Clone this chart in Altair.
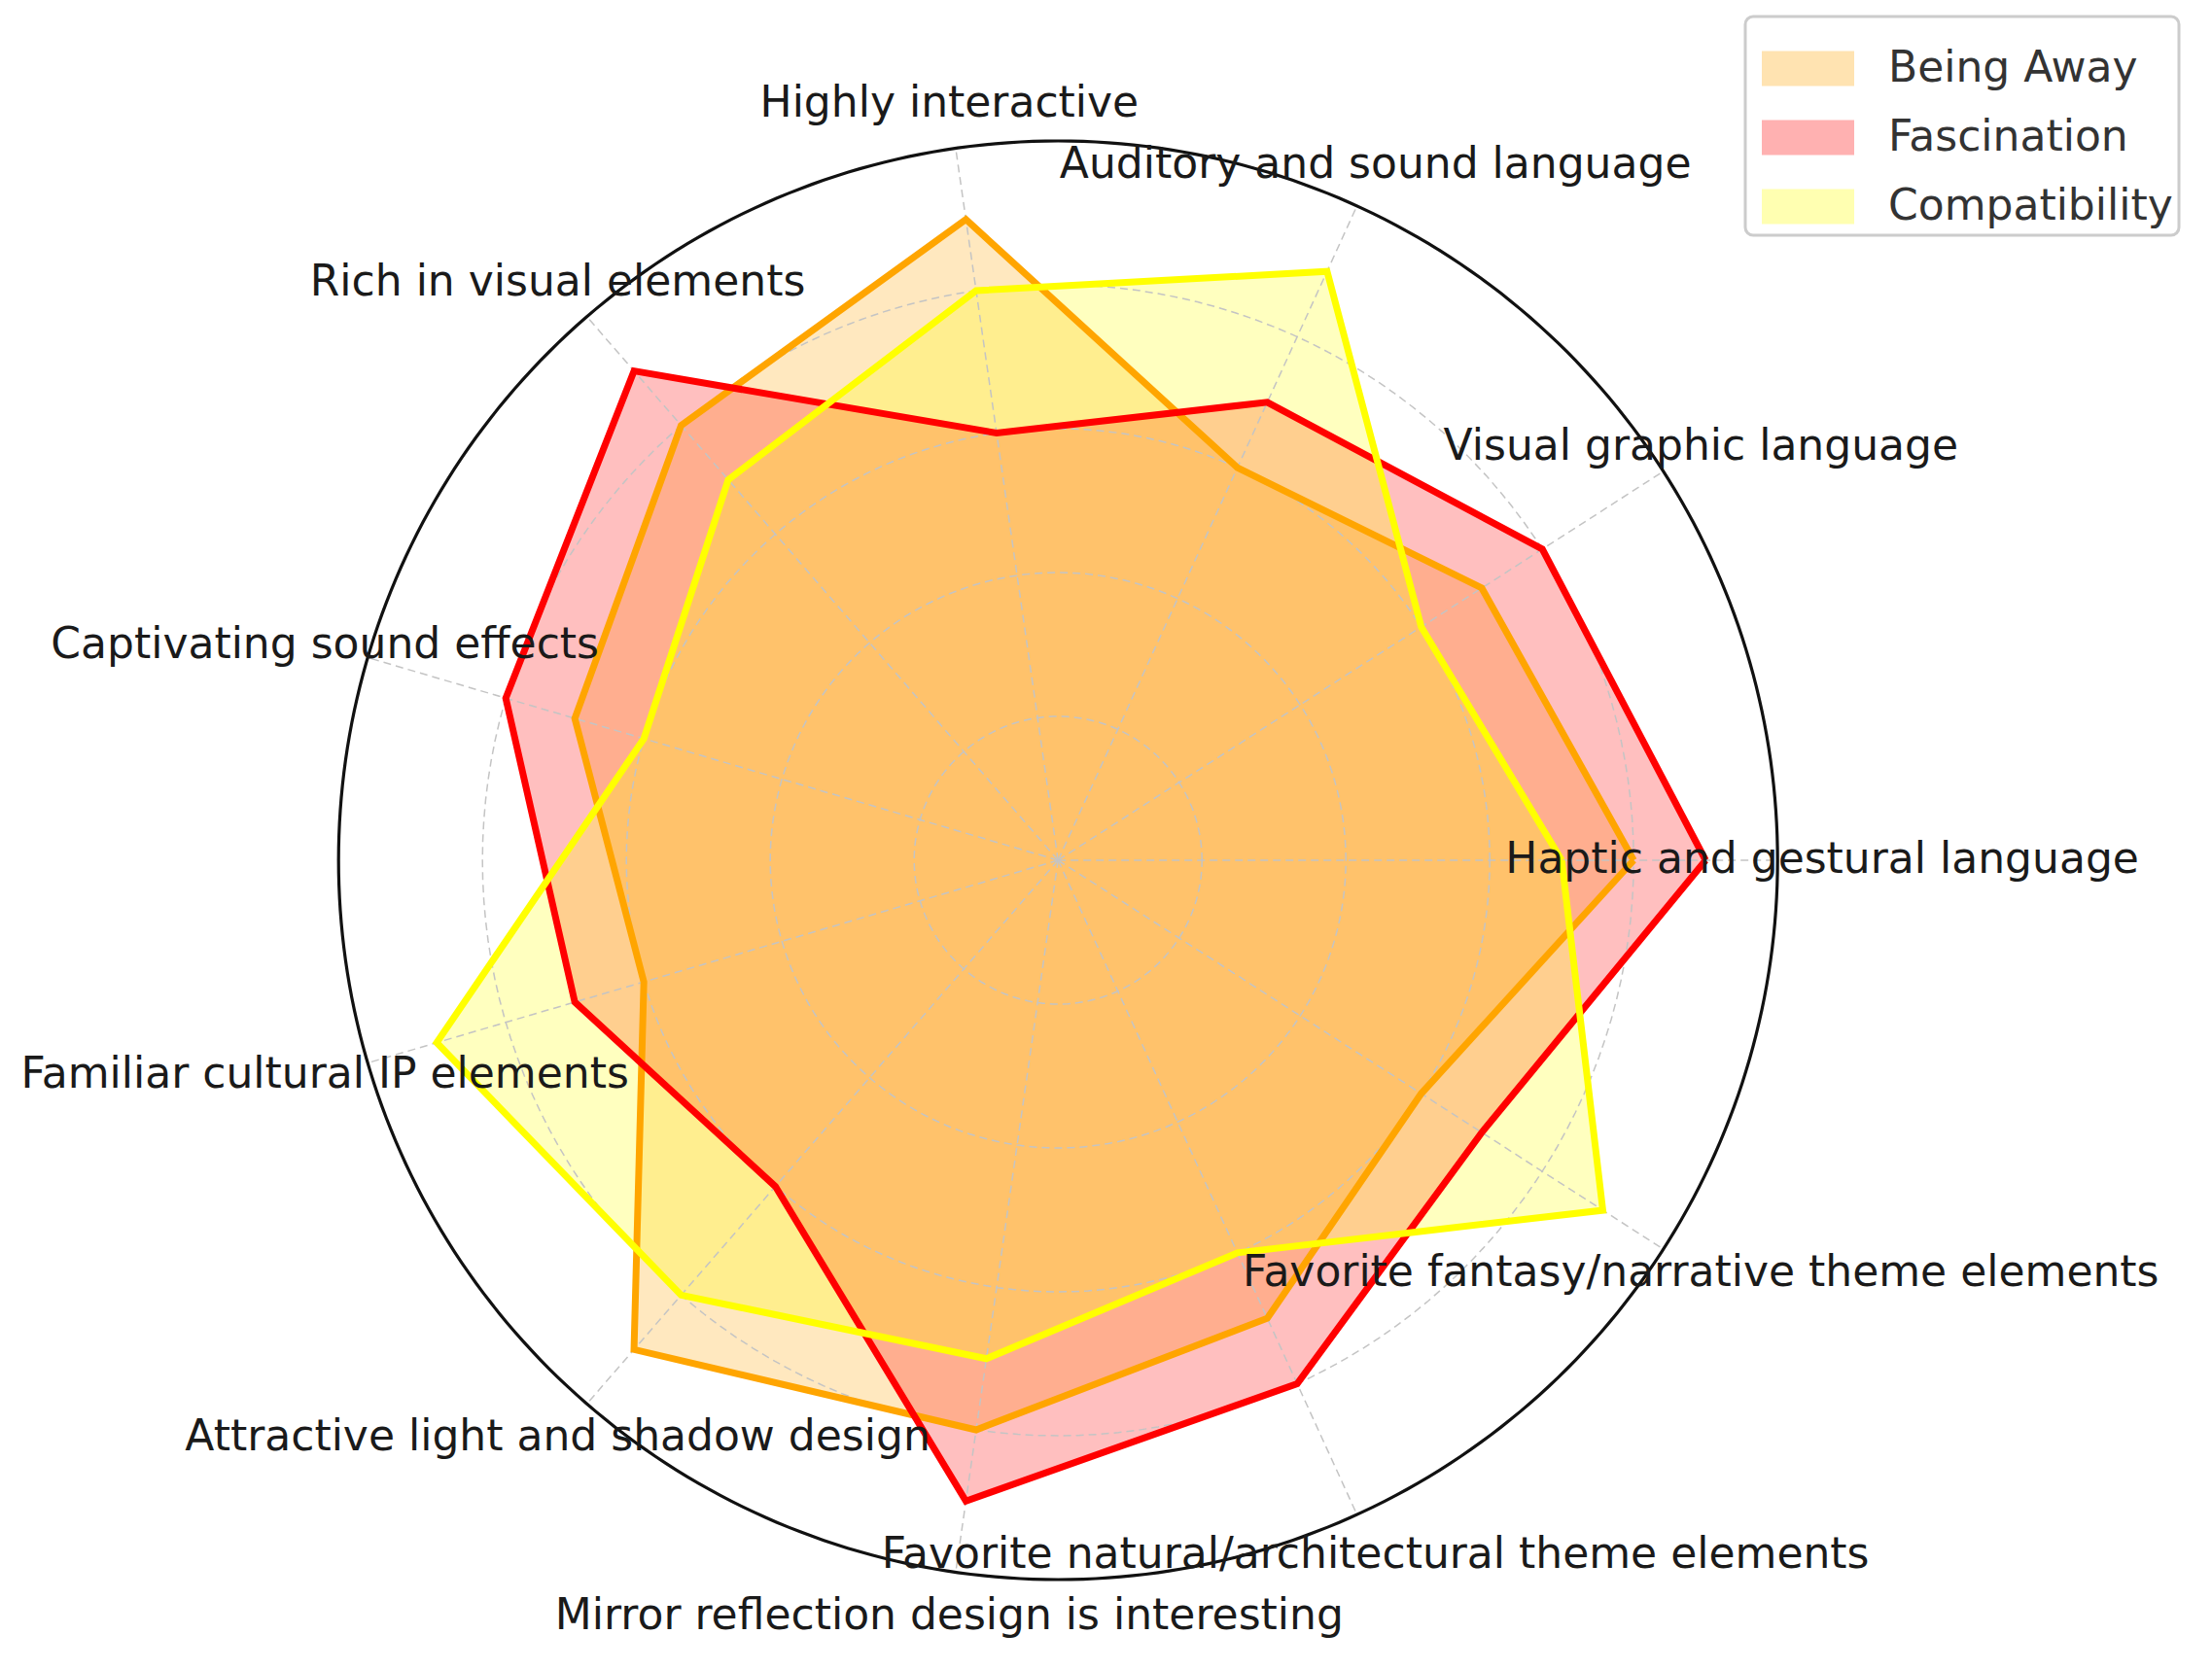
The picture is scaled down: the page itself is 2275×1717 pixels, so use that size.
import altair as alt
import pandas as pd
import numpy as np

categories = [
    "Haptic and gestural language",
    "Visual graphic language",
    "Auditory and sound language",
    "Highly interactive",
    "Rich in visual elements",
    "Captivating sound effects",
    "Familiar cultural IP elements",
    "Attractive light and shadow design",
    "Mirror reflection design is interesting",
    "Favorite natural/architectural theme elements",
    "Favorite fantasy/narrative theme elements",
]
series_names = ["Being Away", "Fascination", "Compatibility"]
being_away = [4.0, 3.5, 3.0, 4.5, 4.0, 3.5, 3.0, 4.5, 4.0, 3.5, 3.0]
fascination = [4.5, 4.0, 3.5, 3.0, 4.5, 4.0, 3.5, 3.0, 4.5, 4.0, 3.5]
compatibility = [3.5, 3.0, 4.5, 4.0, 3.5, 3.0, 4.5, 4.0, 3.5, 3.0, 4.5]
series_colors = ["#FFA500", "#FF0000", "#FFFF00"]
rings = [1, 2, 3, 4]
r_max = 5
label_r = 5.31

N = len(categories)
rows = []
for name, vals in zip(series_names, [being_away, fascination, compatibility]):
    for i in range(N + 1):
        rows.append({"series": name, "i": i, "v": vals[i % N]})
df = pd.DataFrame(rows)

cat_df = pd.DataFrame({"i": list(range(N)), "label": categories})
ring_df = pd.DataFrame([{"r": r, "deg": d} for r in rings for d in range(0, 361, 2)])
outer_df = pd.DataFrame([{"r": r_max, "deg": d} for d in range(0, 361, 1)])

W, H = 2259, 1700
ppu = 148.0
cx, cy = 1088.2 - 8, 885.0 - 8
xmin = -cx / ppu
xmax = xmin + W / ppu
ymax = cy / ppu
ymin = ymax - H / ppu

xs = alt.Scale(domain=[xmin, xmax], nice=False, zero=False)
ys = alt.Scale(domain=[ymin, ymax], nice=False, zero=False)
X = alt.X("x:Q", scale=xs, axis=None)
Y = alt.Y("y:Q", scale=ys, axis=None)

ang = f"datum.i * 2 * PI / {N}"
cscale = alt.Scale(domain=series_names, range=series_colors)

fills = []
lines = []
for k, s in enumerate(series_names):
    base = alt.Chart(df).transform_filter(alt.datum.series == s).transform_calculate(
        x=f"datum.v * cos({ang})", y=f"datum.v * sin({ang})"
    )
    fills.append(
        base.mark_line(fillOpacity=0.25, strokeOpacity=0.25, strokeWidth=1.5).encode(
            x=X, y=Y, order="i:Q",
            fill=alt.Fill("series:N", scale=cscale,
                          legend=alt.Legend(title=None) if k == 0 else None),
            stroke=alt.Stroke("series:N", scale=cscale,
                              legend=alt.Legend(title=None) if k == 0 else None),
        )
    )
    lines.append(
        base.mark_line(strokeWidth=7, strokeJoin="miter").encode(
            x=X, y=Y, order="i:Q",
            stroke=alt.Stroke("series:N", scale=cscale, legend=None),
        )
    )

grid_rings = alt.Chart(ring_df).transform_calculate(
    x="datum.r * cos(datum.deg * PI / 180)", y="datum.r * sin(datum.deg * PI / 180)"
).mark_line(color="#c4c4c4", strokeWidth=1.5, strokeDash=[8, 5]).encode(
    x=X, y=Y, detail="r:N", order="deg:Q"
)

spokes = alt.Chart(cat_df).transform_calculate(
    x="0", y="0",
    x2=f"{r_max} * cos({ang})", y2=f"{r_max} * sin({ang})"
).mark_rule(color="#c4c4c4", strokeWidth=1.5, strokeDash=[8, 5]).encode(
    x=X, y=Y, x2="x2:Q", y2="y2:Q"
)

outer = alt.Chart(outer_df).transform_calculate(
    x="datum.r * cos(datum.deg * PI / 180)", y="datum.r * sin(datum.deg * PI / 180)"
).mark_line(color="#111111", strokeWidth=3.2).encode(x=X, y=Y, order="deg:Q")

labels = alt.Chart(cat_df).transform_calculate(
    x=f"{label_r} * cos({ang})", y=f"{label_r} * sin({ang})"
).mark_text(font="DejaVu Sans", fontSize=44, color="#1a1a1a", align="center",
            baseline="middle").encode(x=X, y=Y, text="label:N")

chart = alt.layer(*fills, grid_rings, spokes, *lines, outer, labels).properties(
    width=W, height=H, padding=0
).configure_view(strokeWidth=0).configure_legend(
    orient="none", legendX=1787, legendY=9,
    labelFont="DejaVu Sans", labelFontSize=44, labelColor="#333333", labelLimit=0,
    symbolType="M-1,-0.36H1V0.36H-1Z", symbolSize=8464,
    symbolOpacity=0.3, symbolStrokeWidth=3, symbolOffset=11,
    labelOffset=35, padding=6, rowPadding=0,
    strokeColor="#cccccc", strokeWidth=3, cornerRadius=8, fillColor="white",
)

chart.save("out.html", embed_options={"renderer": "svg", "actions": False})
